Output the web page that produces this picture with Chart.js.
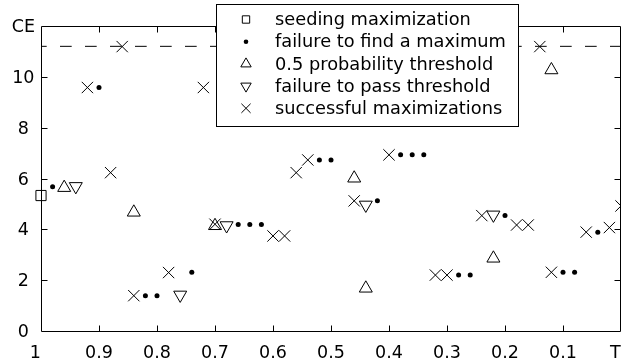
<!DOCTYPE html>
<html>
<head>
<meta charset="utf-8">
<script src="https://cdn.jsdelivr.net/npm/chart.js@4.4.1/dist/chart.umd.min.js"></script>
<style>
  html, body { margin: 0; padding: 0; background: #fff; }
  #wrap { position: relative; width: 621px; height: 362px; }
</style>
</head>
<body>
<div id="wrap"><canvas id="c" width="621" height="362"></canvas></div>
<script>
// ---- data ----
const seriesLabels = [
  'seeding maximization',
  'failure to find a maximum',
  '0.5 probability threshold',
  'failure to pass threshold',
  'successful maximizations'
];

const seedingX = [1.00];
const seedingY = [5.33];

const failureX = [0.98, 0.90, 0.82, 0.80, 0.74, 0.66, 0.64, 0.62, 0.52, 0.50, 0.42, 0.38, 0.36, 0.34, 0.28, 0.26, 0.20, 0.10, 0.08, 0.04];
const failureY = [5.68, 9.58, 1.39, 1.39, 2.31, 4.19, 4.19, 4.19, 6.73, 6.73, 5.12, 6.93, 6.93, 6.93, 2.20, 2.20, 4.54, 2.31, 2.31, 3.89];

const thresholdX = [0.96, 0.84, 0.70, 0.46, 0.44, 0.22, 0.12];
const thresholdY = [5.64, 4.67, 4.14, 6.01, 1.68, 2.86, 10.27];

const failPassX = [0.94, 0.76, 0.68, 0.44, 0.22];
const failPassY = [5.69, 1.42, 4.15, 4.96, 4.57];

const successX = [0.92, 0.88, 0.86, 0.84, 0.78, 0.72, 0.70, 0.60, 0.58, 0.56, 0.54, 0.46, 0.40, 0.32, 0.30, 0.24, 0.18, 0.16, 0.14, 0.12, 0.06, 0.02, 0.00];
const successY = [9.58, 6.23, 11.19, 1.39, 2.30, 9.58, 4.20, 3.74, 3.74, 6.23, 6.73, 5.12, 6.93, 2.20, 2.20, 4.54, 4.17, 4.17, 11.19, 2.31, 3.89, 4.07, 4.92];

const referenceCE = 11.2;   // dashed horizontal line
const lineX = [1, 0];

const xTickValues = [1, 0.9, 0.8, 0.7, 0.6, 0.5, 0.4, 0.3, 0.2, 0.1, 0];
const xTickLabels = ['1', '0.9', '0.8', '0.7', '0.6', '0.5', '0.4', '0.3', '0.2', '0.1', 'T'];
const yTickValues = [0, 2, 4, 6, 8, 10, 12];
const yTickLabels = ['0', '2', '4', '6', '8', '10', 'CE'];

// ---- helpers ----
const pts = (xs, ys) => xs.map((x, i) => ({ x: x, y: ys[i] }));
const labelFor = (vals, labs, v) => {
  const i = vals.findIndex(t => Math.abs(t - v) < 1e-9);
  return i >= 0 ? labs[i] : '';
};

const FONT = '"DejaVu Sans", "Liberation Sans", Arial, sans-serif';
Chart.defaults.color = '#000';
Chart.defaults.font.family = FONT;

const markerStyles = [
  { pointStyle: 'rect', rotation: 0, radius: 7.2, fill: 'rgba(0,0,0,0)', bw: 1, legendRadius: 5.2 },
  { pointStyle: 'circle', rotation: 0, radius: 2.5, fill: '#000', bw: 0, legendRadius: 2.3 },
  { pointStyle: 'triangle', rotation: 0, radius: 7.5, fill: 'rgba(0,0,0,0)', bw: 1, legendRadius: 6 },
  { pointStyle: 'triangle', rotation: 180, radius: 7.5, fill: 'rgba(0,0,0,0)', bw: 1, legendRadius: 6 },
  { pointStyle: 'crossRot', rotation: 0, radius: 8, fill: 'rgba(0,0,0,0)', bw: 1, legendRadius: 6.5 }
];

const seriesData = [
  pts(seedingX, seedingY),
  pts(failureX, failureY),
  pts(thresholdX, thresholdY),
  pts(failPassX, failPassY),
  pts(successX, successY)
];

const datasets = seriesData.map((d, i) => ({
  type: 'scatter',
  label: seriesLabels[i],
  data: d,
  pointStyle: markerStyles[i].pointStyle,
  rotation: markerStyles[i].rotation,
  pointRadius: markerStyles[i].radius,
  pointHoverRadius: markerStyles[i].radius,
  pointBorderWidth: markerStyles[i].bw,
  pointBorderColor: '#000',
  pointBackgroundColor: markerStyles[i].fill,
  showLine: false,
  clip: false
}));

datasets.unshift({
  type: 'line',
  label: 'reference',
  data: lineX.map(x => ({ x: x, y: referenceCE })),
  borderColor: '#000',
  borderWidth: 1,
  borderDash: [11.7, 13.3],
  borderDashOffset: 6,
  pointRadius: 0,
  fill: false,
  tension: 0
});

// frame with inward ticks (gnuplot style)
const framePlugin = {
  id: 'frame',
  afterDatasetsDraw(chart) {
    const { ctx, chartArea: a, scales } = chart;
    const L = a.left + 0.5, R = a.right - 0.5, T = a.top + 0.5, B = a.bottom + 0.5;
    ctx.save();
    ctx.strokeStyle = '#000';
    ctx.lineWidth = 1;
    ctx.beginPath();
    ctx.rect(L, T, R - L, B - T);
    const tl = 6;
    xTickValues.forEach(v => {
      if (v === 0 || v === 1) return;
      const px = Math.round(scales.x.getPixelForValue(v)) + 0.5;
      ctx.moveTo(px, B); ctx.lineTo(px, B - tl);
      ctx.moveTo(px, T); ctx.lineTo(px, T + tl);
    });
    yTickValues.forEach(v => {
      if (v === 0 || v === 12) return;
      const py = Math.round(scales.y.getPixelForValue(v)) + 0.5;
      ctx.moveTo(L, py); ctx.lineTo(L + tl, py);
      ctx.moveTo(R, py); ctx.lineTo(R - tl, py);
    });
    ctx.stroke();
    ctx.restore();
  }
};

// boxed legend overlapping the plot top
const legendPlugin = {
  id: 'boxLegend',
  afterDraw(chart) {
    const ctx = chart.ctx;
    const box = { l: 216.5, t: 4.5, r: 518.5, b: 126.5 };
    ctx.save();
    ctx.fillStyle = '#fff';
    ctx.fillRect(box.l, box.t, box.r - box.l, box.b - box.t);
    ctx.strokeStyle = '#000';
    ctx.lineWidth = 1;
    ctx.strokeRect(box.l, box.t, box.r - box.l, box.b - box.t);
    const rowY0 = 19.5, rowStep = 22.2, symX = 246, textX = 275;
    ctx.font = '17.8px ' + FONT;
    ctx.textBaseline = 'middle';
    ctx.textAlign = 'left';
    seriesLabels.forEach((lab, i) => {
      const y = rowY0 + i * rowStep;
      const m = markerStyles[i];
      ctx.save();
      ctx.strokeStyle = '#000';
      ctx.fillStyle = m.fill;
      ctx.lineWidth = m.bw || 1;
      Chart.helpers.drawPoint(ctx, {
        pointStyle: m.pointStyle,
        rotation: m.rotation,
        radius: m.legendRadius,
        borderWidth: m.bw
      }, symX, y);
      ctx.restore();
      ctx.fillStyle = '#000';
      ctx.fillText(lab, textX, y + 1);
    });
    ctx.restore();
  }
};

const tickFont = { size: 17.5, family: FONT };

new Chart(document.getElementById('c'), {
  type: 'scatter',
  data: { datasets: datasets },
  options: {
    responsive: false,
    animation: false,
    devicePixelRatio: 1,
    layout: { autoPadding: false, padding: { top: 26, left: 0, right: 0, bottom: 0 } },
    plugins: { legend: { display: false }, tooltip: { enabled: false } },
    scales: {
      x: {
        type: 'linear',
        reverse: true,
        min: 0,
        max: 1,
        grid: { display: false, drawTicks: false },
        border: { display: false },
        afterBuildTicks: s => { s.ticks = xTickValues.map(v => ({ value: v })); },
        afterFit: s => { s.height = 31; s.paddingLeft = 0; s.paddingRight = 0; },
        ticks: {
          autoSkip: false,
          maxRotation: 0,
          padding: 12,
          font: tickFont,
          color: '#000',
          callback: v => {
            const lab = labelFor(xTickValues, xTickLabels, v);
            if (v === 1 || v === 0) return lab + '  ';
            return lab;
          }
        }
      },
      y: {
        type: 'linear',
        min: 0,
        max: 12,
        grid: { display: false, drawTicks: false },
        border: { display: false },
        afterBuildTicks: s => { s.ticks = yTickValues.map(v => ({ value: v })); },
        afterFit: s => { s.width = 41; s.paddingTop = 0; s.paddingBottom = 0; },
        ticks: {
          autoSkip: false,
          padding: 6,
          labelOffset: 1.5,
          crossAlign: 'center',
          font: tickFont,
          color: '#000',
          callback: v => labelFor(yTickValues, yTickLabels, v)
        }
      }
    }
  },
  plugins: [framePlugin, legendPlugin]
});
</script>
</body>
</html>
